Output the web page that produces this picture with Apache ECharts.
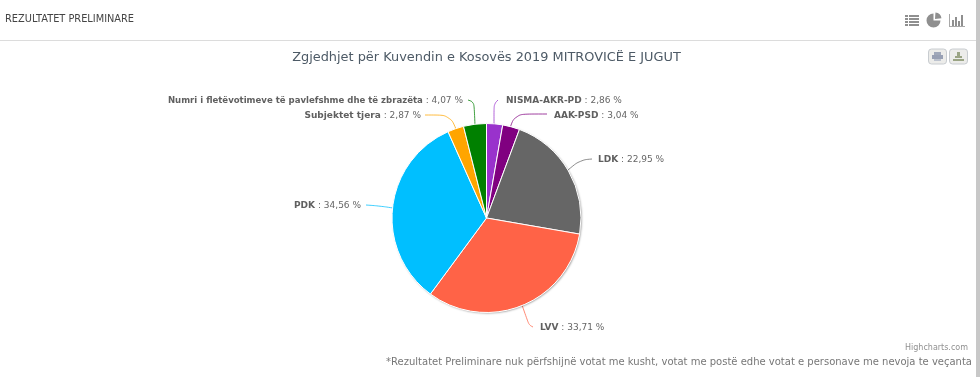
<!DOCTYPE html>
<html>
<head>
<meta charset="utf-8">
<title>Rezultatet Preliminare</title>
<script src="https://cdn.jsdelivr.net/npm/echarts@6/dist/echarts.min.js"></script>
<style>
  html, body { margin: 0; padding: 0; background: #fff; overflow: hidden; }
  #chart { width: 980px; height: 377px; }
</style>
</head>
<body>
<div id="chart"></div>
<script>
const parties = ['NISMA-AKR-PD', 'AAK-PSD', 'LDK', 'LVV', 'PDK', 'Subjektet tjera', 'Numri i fletëvotimeve të pavlefshme dhe të zbrazëta']
const shares = [2.86, 3.04, 22.95, 33.71, 34.56, 2.87, 4.07]
const colors = ['#9932cc', '#800080', '#666666', '#ff6347', '#00bfff', '#ffa500', '#008000']

// where the labels and their leader lines sit, same order as parties
const labelSpots = [
  { x: 506, y: 101, align: 'left', line: [[498, 100], [494, 104], [494, 125]] },
  { x: 554, y: 116, align: 'left', line: [[547, 114], [515, 114], [510, 128]] },
  { x: 598, y: 160, align: 'left', line: [[592, 159], [580, 160], [568, 170]] },
  { x: 540, y: 328, align: 'left', line: [[533, 327], [529, 325], [522, 305]] },
  { x: 361, y: 206, align: 'right', line: [[366, 205], [380, 206], [393, 208]] },
  { x: 421, y: 116, align: 'right', line: [[425, 115], [450, 115], [456, 129]] },
  { x: 463, y: 101, align: 'right', line: [[468, 100], [474, 102], [475, 125]] }
]

const uiFont = 'DejaVu Sans'
const iconColor = '#8f8f8f'
const pieCenter = [486.5, 218]
const pieRadius = 94.5

const rect = (x, y, width, height, fill) => ({
  type: 'rect', shape: { x, y, width, height }, style: { fill }, silent: true
})

const text = (x, y, str, fontSize, fill, textAlign) => ({
  type: 'text', x, y, silent: true,
  style: { text: str, fontFamily: uiFont, fontSize, fill, textAlign: textAlign || 'left', textVerticalAlign: 'middle' }
})

const button = (x) => ({
  type: 'rect',
  shape: { x, y: 49, width: 18, height: 15, r: 3 },
  style: { fill: '#ececea', stroke: '#c8ccd0', lineWidth: 1 },
  silent: true
})

const headerBits = [
  text(5, 19.5, 'REZULTATET PRELIMINARE', 9.8, '#444'),
  rect(0, 40, 976, 1, '#dcdcdc'),
  rect(976, 0, 4, 377, '#c8c8c8'),
  // list icon
  rect(905, 15, 3, 2, iconColor), rect(909, 15, 10, 2, iconColor),
  rect(905, 18, 3, 2, iconColor), rect(909, 18, 10, 2, iconColor),
  rect(905, 21, 3, 2, iconColor), rect(909, 21, 10, 2, iconColor),
  rect(905, 24, 3, 2, iconColor), rect(909, 24, 10, 2, iconColor),
  // pie icon
  { type: 'sector', shape: { cx: 933.5, cy: 20.5, r: 7, startAngle: 0, endAngle: 4.71 }, style: { fill: iconColor }, silent: true },
  { type: 'sector', shape: { cx: 935, cy: 19, r: 6.5, startAngle: -1.5, endAngle: -0.1 }, style: { fill: iconColor }, silent: true },
  // bar icon
  rect(949, 14, 1, 12, '#a8a8a8'), rect(949, 26, 16, 1, '#a8a8a8'),
  rect(952, 20, 2, 6, iconColor), rect(955, 17, 2, 9, iconColor),
  rect(958, 21, 2, 5, iconColor), rect(961, 15, 2, 11, iconColor),
  // print and download buttons
  button(928.5), button(949.5),
  rect(934, 52, 7, 3, '#a0a8ba'), rect(932, 55, 11, 4, '#98a0b4'), rect(934, 59, 7, 2, '#bcc2ce'),
  rect(957, 52, 3, 4, '#9aa484'), rect(955, 56, 7, 2, '#9aa484'), rect(953, 59, 11, 2, '#9aa484'),
  // footer
  text(968, 348, 'Highcharts.com', 8, '#909090', 'right'),
  text(972, 362, '*Rezultatet Preliminare nuk përfshijnë votat me kusht, votat me postë edhe votat e personave me nevoja te veçanta', 10, '#777', 'right')
]

const chart = echarts.init(document.getElementById('chart'), null, { renderer: 'canvas' })

chart.setOption({
  animation: false,
  backgroundColor: '#fff',
  title: {
    text: 'Zgjedhjet për Kuvendin e Kosovës 2019 MITROVICË E JUGUT',
    left: 481.5,
    top: 46,
    textAlign: 'center',
    textStyle: { fontFamily: uiFont, fontSize: 12.9, fontWeight: 'normal', color: '#4d5a66' }
  },
  graphic: headerBits,
  series: [
    {
      // plain disc behind the slices, carries the shadow so it does not fall on neighbouring slices
      type: 'pie',
      silent: true,
      center: pieCenter,
      radius: pieRadius,
      label: { show: false },
      labelLine: { show: false },
      data: [{ name: 'shadow', value: 1 }],
      itemStyle: {
        color: '#fff',
        shadowBlur: 2,
        shadowOffsetX: 1,
        shadowOffsetY: 1,
        shadowColor: 'rgba(0,0,0,0.35)'
      }
    },
    {
      type: 'pie',
      center: pieCenter,
      radius: pieRadius,
      startAngle: 90,
      clockwise: true,
      data: parties.map((name, i) => ({ name, value: shares[i], itemStyle: { color: colors[i] } })),
      itemStyle: {
        borderColor: '#fff',
        borderWidth: 1
      },
      label: {
        fontFamily: uiFont,
        fontSize: 9,
        color: '#666',
        formatter: (p) => (p.name.length > 20 ? '{long|' : '{b|') + p.name + '} : ' + p.value.toFixed(2).replace('.', ',') + ' %',
        rich: {
          b: { fontFamily: uiFont, fontSize: 9, fontWeight: 'bold', color: '#606060' },
          long: { fontFamily: uiFont, fontSize: 8.55, fontWeight: 'bold', color: '#606060' }
        }
      },
      labelLine: { show: true, smooth: 0.4, lineStyle: { width: 1, opacity: 0.75 } },
      labelLayout: (p) => {
        const spot = labelSpots[p.dataIndex]
        return {
          x: spot.x, y: spot.y, align: spot.align, verticalAlign: 'middle',
          labelLinePoints: spot.line, hideOverlap: false
        }
      }
    }
  ]
})
</script>
</body>
</html>
